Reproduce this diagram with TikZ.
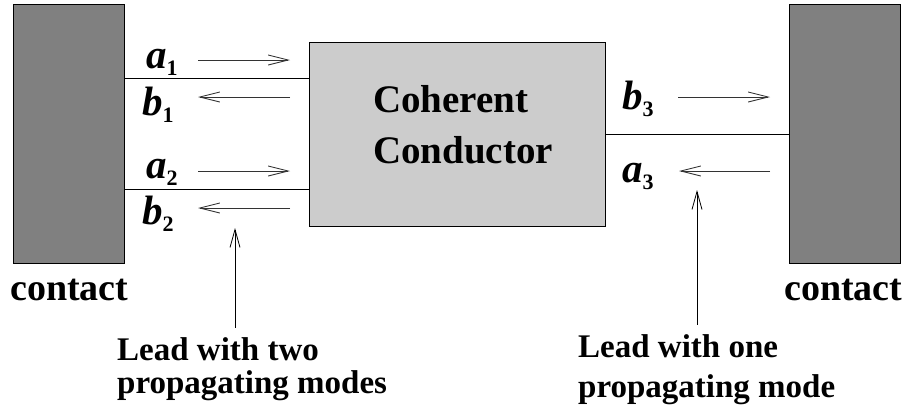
\documentclass[tikz,border=0pt]{standalone}
\usepackage{fontspec}
\setmainfont{Liberation Serif}
\usetikzlibrary{arrows.meta}
\newcommand{\modelab}[2]{{\fontsize{41}{42}\selectfont\bfseries\itshape #1}\raisebox{-7pt}{\fontsize{22}{24}\selectfont\bfseries #2}}
\begin{document}
\begin{tikzpicture}[x=1pt,y=-1pt,
  contactbox/.style={draw=black, line width=1pt, fill=black!50, inner sep=0pt, outer sep=0pt, anchor=north west},
  condbox/.style={draw=black, line width=1pt, fill=black!20, inner sep=0pt, outer sep=0pt, anchor=north west},
  lead/.style={draw=black, line width=1pt},
  arr/.style={draw=black!80, line width=0.9pt, -{Straight Barb[length=20pt,width=10pt,line width=0.9pt]}},
  ptr/.style={draw=black, line width=0.8pt, -{Straight Barb[length=18pt,width=10pt,line width=0.8pt]}},
  big/.style={font=\fontsize{39}{40}\selectfont\bfseries, inner sep=0pt, anchor=base west},
  small/.style={font=\fontsize{33}{35}\selectfont\bfseries, inner sep=0pt, anchor=base west},
  ml/.style={inner sep=0pt, anchor=base west}]
\useasboundingbox (0,0) rectangle (906,405);
\fill[white] (0,0) rectangle (906,405);
% contacts and conductor
\node[contactbox, minimum width=111, minimum height=259] (lc) at (13,4) {};
\node[contactbox, minimum width=111, minimum height=259] (rc) at (789,4) {};
\node[condbox, minimum width=296, minimum height=184] (cc) at (309,42) {};
\node[big] (t1) at (373,112) {Coherent};
\node[big] (t2) at (373,163) {Conductor};
% leads
\coordinate (y1) at (0,78);
\coordinate (y2) at (0,189);
\coordinate (y3) at (0,134);
\draw[lead] (lc.east |- y1) -- (cc.west |- y1);
\draw[lead] (lc.east |- y2) -- (cc.west |- y2);
\draw[lead] (cc.east |- y3) -- (rc.west |- y3);
% mode arrows
\coordinate (a1s) at (198,60); \coordinate (a1e) at (290,60);
\coordinate (b1s) at (290,97); \coordinate (b1e) at (198,97);
\coordinate (a2s) at (198,171); \coordinate (a2e) at (290,171);
\coordinate (b2s) at (290,208); \coordinate (b2e) at (198,208);
\coordinate (b3s) at (678,97); \coordinate (b3e) at (770,97);
\coordinate (a3s) at (770,171); \coordinate (a3e) at (679,171);
\draw[arr] (a1s) -- (a1e);
\draw[arr] (b1s) -- (b1e);
\draw[arr] (a2s) -- (a2e);
\draw[arr] (b2s) -- (b2e);
\draw[arr] (b3s) -- (b3e);
\draw[arr] (a3s) -- (a3e);
% mode labels
\node[ml] (la1) at (146,68) {\modelab{a}{1}};
\node[ml] (lb1) at (142,115) {\modelab{b}{1}};
\node[ml] (la2) at (146,178) {\modelab{a}{2}};
\node[ml] (lb2) at (142,224) {\modelab{b}{2}};
\node[ml] (lb3) at (622,109) {\modelab{b}{3}};
\node[ml] (la3) at (622,182) {\modelab{a}{3}};
% contact labels
\node[big, font=\fontsize{38}{40}\selectfont\bfseries] (cl) at (10,300) {contact};
\node[big, font=\fontsize{38}{40}\selectfont\bfseries] (cr) at (784,300) {contact};
% lead descriptions
\node[small] (d1) at (117,360) {Lead with two};
\node[small] (d2) at (117,393) {propagating modes};
\node[small] (d3) at (578,357) {Lead with one};
\node[small] (d4) at (578,397) {propagating mode};
\coordinate (p1) at (235,228);
\coordinate (p2) at (697,190);
\draw[ptr] (d1.north -| p1) ++(0,-9) -- (p1);
\draw[ptr] (d3.north -| p2) ++(0,-9) -- (p2);
\end{tikzpicture}
\end{document}
